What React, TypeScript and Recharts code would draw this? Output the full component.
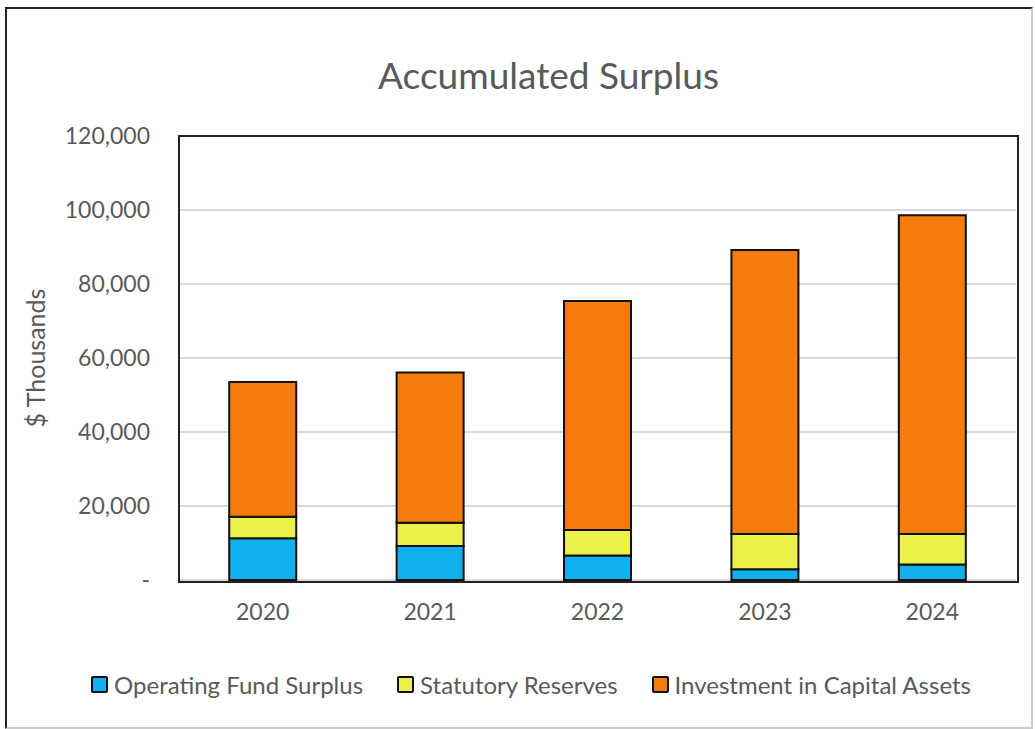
import { Bar, BarChart, CartesianGrid, Legend, XAxis, YAxis } from "recharts"

// values in $ thousands
const years = ["2020", "2021", "2022", "2023", "2024"]
const operatingFund = [11300, 9200, 6600, 2900, 4200]
const statutoryReserves = [5800, 6300, 6900, 9500, 8200]
const capitalAssets = [36400, 40600, 61900, 76800, 86200]
const yTicks = [0, 20000, 40000, 60000, 80000, 100000, 120000]

const series = [
  { key: "operating", name: "Operating Fund Surplus", color: "#0fb0ec" },
  { key: "statutory", name: "Statutory Reserves", color: "#ecf04a" },
  { key: "capital", name: "Investment in Capital Assets", color: "#f47b0c" },
]

const data = years.map((year, i) => ({
  year,
  operating: operatingFund[i],
  statutory: statutoryReserves[i],
  capital: capitalAssets[i],
}))

const FONT = "Lato, 'Open Sans', sans-serif"
const GREY = "#595959"

// plot box (matches chart margins below)
const PLOT = { left: 179, top: 136, right: 1016, bottom: 580 }

function LegendContent() {
  return (
    <div style={{ display: "flex", justifyContent: "center", gap: 34, fontFamily: FONT, fontSize: 24, color: GREY, paddingLeft: 46 }}>
      {series.map((s) => (
        <div key={s.key} style={{ display: "flex", alignItems: "center" }}>
          <span
            style={{
              display: "inline-block",
              width: 13,
              height: 13,
              background: s.color,
              border: "2px solid #111",
              borderRadius: 2,
              marginRight: 6,
            }}
          />
          <span>{s.name}</span>
        </div>
      ))}
    </div>
  )
}

export default function App() {
  return (
    <div style={{ position: "absolute", left: 0, top: 0, width: 1035, height: 729, background: "#fff" }}>
      <div
        style={{
          position: "absolute",
          left: 5,
          top: 7,
          width: 1024,
          height: 718,
          border: "2px solid #222",
          borderBottomColor: "#ccc",
          borderRightColor: "#ccc",
        }}
      />
      <div
        style={{
          position: "absolute",
          top: 52,
          left: 31,
          width: 1035,
          textAlign: "center",
          fontFamily: FONT,
          fontSize: 37,
          color: GREY,
        }}
      >
        Accumulated Surplus
      </div>
      <BarChart
        width={1035}
        height={729}
        data={data}
        margin={{ top: PLOT.top, right: 1035 - PLOT.right, left: 0, bottom: 19 }}
        barCategoryGap="30%"
      >
        <CartesianGrid vertical={false} stroke="#d9d9d9" strokeWidth={2} />
        <XAxis
          dataKey="year"
          height={90}
          tickLine={false}
          tickSize={0}
          tickMargin={24}
          axisLine={false}
          tick={{ fill: GREY, fontSize: 23, fontFamily: FONT }}
        />
        <YAxis
          width={PLOT.left}
          domain={[0, 120000]}
          ticks={yTicks}
          tickLine={false}
          tickSize={0}
          tickMargin={29}
          axisLine={false}
          tick={{ fill: GREY, fontSize: 23, fontFamily: FONT }}
          tickFormatter={(v: number) => (v === 0 ? "-" : v.toLocaleString("en-US"))}
          label={{
            value: "$ Thousands",
            angle: -90,
            position: "insideLeft",
            offset: 36,
            style: { textAnchor: "middle", fill: GREY, fontSize: 25, fontFamily: FONT },
          }}
        />
        <Legend verticalAlign="bottom" height={40} content={<LegendContent />} />
        {series.map((s) => (
          <Bar
            key={s.key}
            dataKey={s.key}
            name={s.name}
            stackId="a"
            fill={s.color}
            stroke="#111"
            strokeWidth={2}
            isAnimationActive={false}
          />
        ))}
      </BarChart>
      <div
        style={{
          position: "absolute",
          left: PLOT.left - 1,
          top: PLOT.top - 1,
          width: PLOT.right - PLOT.left,
          height: PLOT.bottom - PLOT.top,
          border: "2px solid #222",
          pointerEvents: "none",
        }}
      />
    </div>
  )
}
